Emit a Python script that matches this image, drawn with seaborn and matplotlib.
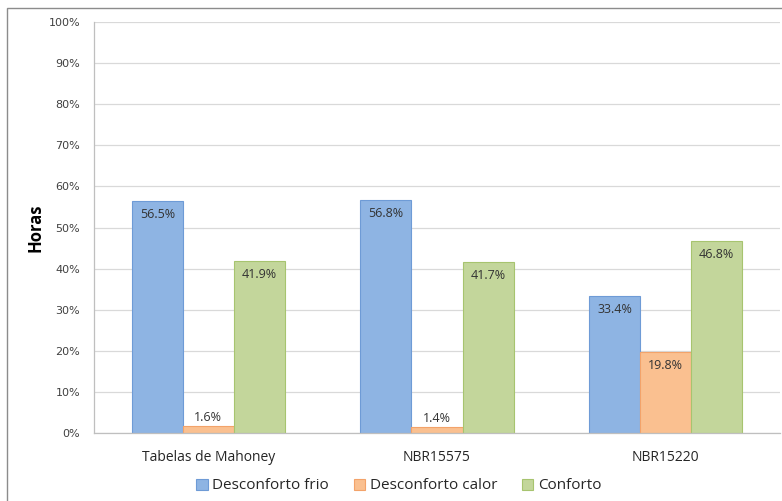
import matplotlib
matplotlib.use("Agg")
import matplotlib.pyplot as plt
from matplotlib.patches import Rectangle, Patch
from matplotlib.ticker import PercentFormatter, FixedLocator
import seaborn as sns
import pandas as pd

categories = ["Tabelas de Mahoney", "NBR15575", "NBR15220"]
series = ["Desconforto frio", "Desconforto calor", "Conforto"]
desconforto_frio = [56.5, 56.8, 33.4]
desconforto_calor = [1.6, 1.4, 19.8]
conforto = [41.9, 41.7, 46.8]

fills = ["#8EB4E3", "#FAC090", "#C3D69B"]
edges = ["#6E9BD6", "#F3A36A", "#A7C46F"]

df = pd.DataFrame({
    "categoria": categories * 3,
    "serie": [s for s in series for _ in categories],
    "valor": desconforto_frio + desconforto_calor + conforto,
})

sns.set_style("white")
plt.rcParams["font.family"] = ["Open Sans", "DejaVu Sans"]

fig = plt.figure(figsize=(7.82, 5.01), dpi=100)
ax = fig.add_axes([0.1202, 0.1357, 0.8772, 0.8203])

sns.barplot(data=df, x="categoria", y="valor", hue="serie", order=categories,
            hue_order=series, palette=fills, width=0.67, gap=0,
            saturation=1, legend=False, ax=ax)

for cont, ec in zip(ax.containers, edges):
    for bar in cont:
        bar.set_edgecolor(ec)
        bar.set_linewidth(0.8)
    for bar in cont:
        h = bar.get_height()
        xc = bar.get_x() + bar.get_width() / 2
        if h > 5:
            ax.annotate(f"{h:.1f}%", (xc, h), xytext=(0, -5), textcoords="offset points",
                        ha="center", va="top", fontsize=9, color="#333333")
        else:
            ax.annotate(f"{h:.1f}%", (xc, h), xytext=(0, 1.5), textcoords="offset points",
                        ha="center", va="bottom", fontsize=9, color="#333333")

ax.set_ylim(0, 100)
ax.set_xlim(-0.5, 2.5)
ax.yaxis.set_major_locator(FixedLocator(range(0, 101, 10)))
ax.yaxis.set_major_formatter(PercentFormatter(decimals=0))
ax.grid(axis="y", color="#D9D9D9", linewidth=0.9)
ax.set_axisbelow(True)

for s in ["top", "right"]:
    ax.spines[s].set_visible(False)
for s in ["left", "bottom"]:
    ax.spines[s].set_color("#BFBFBF")
    ax.spines[s].set_linewidth(0.9)

ax.tick_params(axis="y", length=4, color="#BFBFBF", width=0.9, labelsize=8,
               labelcolor="#404040", pad=6)
for lab in ax.get_yticklabels():
    lab.set_fontfamily("DejaVu Sans")
ax.tick_params(axis="x", length=0, labelsize=10, labelcolor="#262626", pad=12)
ax.set_xticks(range(3))
ax.set_xticklabels(categories)
ax.set_xticks([-0.5, 0.5, 1.5, 2.5], minor=True)
ax.tick_params(axis="x", which="minor", length=5, color="#BFBFBF", width=0.9)

ax.set_xlabel("")
ax.set_ylabel("Horas", fontsize=12, fontweight="bold", color="black", labelpad=3)

handles = [Patch(facecolor=f, edgecolor=e, linewidth=0.8) for f, e in zip(fills, edges)]
fig.legend(handles, series, loc="center", bbox_to_anchor=(0.51, 0.03), ncol=3,
           frameon=False, fontsize=11, handlelength=0.75, handleheight=0.75,
           handletextpad=0.3, columnspacing=1.6, labelcolor="#262626")

fig.add_artist(Rectangle((7 / 782, -0.02), 1.2, 1.0 - 8 / 501 + 0.02,
                         transform=fig.transFigure, fill=False,
                         edgecolor="#8C8C8C", linewidth=1.0))

fig.savefig("out.png", dpi=100)
